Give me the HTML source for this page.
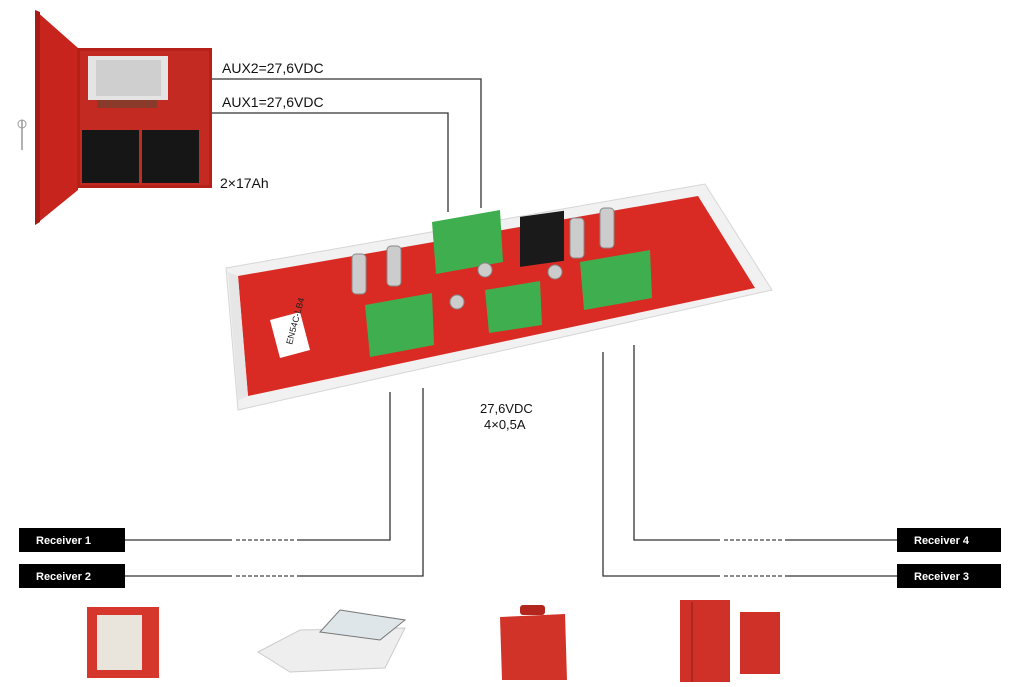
<!DOCTYPE html>
<html><head><meta charset="utf-8"><style>
html,body{margin:0;padding:0;background:#fff;}
svg{display:block;}
text{font-family:"Liberation Sans","DejaVu Sans",sans-serif;}
</style></head><body>
<svg width="1015" height="687" viewBox="0 0 1015 687" xmlns="http://www.w3.org/2000/svg">
<!-- cabinet -->
<polygon points="35,10 78,48 78,190 35,225" fill="#c8241e"/>
<polygon points="35,10 40,12 40,222 35,225" fill="#a81a15"/>
<rect x="77" y="48" width="135" height="140" fill="#b52019"/>
<rect x="80" y="51" width="129" height="134" fill="#c22a22"/>
<rect x="88" y="56" width="80" height="44" fill="#e4e4e4"/>
<rect x="96" y="60" width="65" height="36" fill="#cfcfcf"/>
<rect x="97" y="100" width="60" height="8" fill="#8a3a2a"/>
<rect x="82" y="130" width="57" height="53" fill="#161616"/>
<rect x="142" y="130" width="57" height="53" fill="#161616"/>
<line x1="22" y1="120" x2="22" y2="150" stroke="#999" stroke-width="1.5"/>
<circle cx="22" cy="124" r="4" fill="none" stroke="#999"/>
<!-- AUX lines -->
<polyline points="212,79 481,79 481,208" fill="none" stroke="#333" stroke-width="1.3"/>
<polyline points="212,113 448,113 448,212" fill="none" stroke="#333" stroke-width="1.3"/>
<text x="222" y="73" font-size="14" fill="#111">AUX2=27,6VDC</text>
<text x="222" y="107" font-size="14" fill="#111">AUX1=27,6VDC</text>
<text x="220" y="188" font-size="14" fill="#111">2×17Ah</text>
<!-- board tray -->
<polygon points="226,268 705,184 772,290 238,410" fill="#f1f1f1" stroke="#d6d6d6"/>
<polygon points="238,276 698,196 755,288 248,396" fill="#d92b24"/>
<polygon points="238,276 248,396 238,400 228,272" fill="#e6e6e6"/>
<!-- label -->
<polygon points="270,320 300,312 310,350 280,358" fill="#fff"/>
<text x="292" y="345" font-size="9" fill="#222" transform="rotate(-75 292 345)">EN54C-LB4</text>
<!-- terminals -->
<polygon points="432,222 500,210 503,262 436,274" fill="#3fae4e"/>
<polygon points="365,305 432,293 434,345 370,357" fill="#3fae4e"/>
<polygon points="485,290 540,281 542,325 489,333" fill="#3fae4e"/>
<polygon points="580,262 650,250 652,298 584,310" fill="#3fae4e"/>
<rect x="520" y="218" width="44" height="50" fill="#1a1a1a" transform="skewY(-8) translate(0,72)"/>
<g fill="#ccc" stroke="#888">
<rect x="352" y="254" width="14" height="40" rx="4"/>
<rect x="387" y="246" width="14" height="40" rx="4"/>
<rect x="570" y="218" width="14" height="40" rx="4"/>
<rect x="600" y="208" width="14" height="40" rx="4"/>
<circle cx="457" cy="302" r="7"/>
<circle cx="485" cy="270" r="7"/>
<circle cx="555" cy="272" r="7"/>
</g>
<!-- output lines -->
<polyline points="125,540 390,540 390,392" fill="none" stroke="#333" stroke-width="1.3"/>
<polyline points="125,576 423,576 423,388" fill="none" stroke="#333" stroke-width="1.3"/>
<polyline points="897,540 634,540 634,345" fill="none" stroke="#333" stroke-width="1.3"/>
<polyline points="897,576 603,576 603,352" fill="none" stroke="#333" stroke-width="1.3"/>
<g fill="#fff"><rect x="232" y="536" width="65" height="8"/><rect x="232" y="572" width="65" height="8"/><rect x="720" y="536" width="65" height="8"/><rect x="720" y="572" width="65" height="8"/></g>
<g stroke="#444" stroke-width="1.3" stroke-dasharray="4,2"><line x1="236" y1="540" x2="295" y2="540"/><line x1="236" y1="576" x2="295" y2="576"/><line x1="724" y1="540" x2="783" y2="540"/><line x1="724" y1="576" x2="783" y2="576"/></g>
<text x="480" y="413" font-size="13" fill="#111">27,6VDC</text>
<text x="484" y="429" font-size="13" fill="#111">4×0,5A</text>
<!-- receivers -->
<g font-size="11" font-weight="bold" fill="#fff">
<rect x="19" y="528" width="106" height="24" fill="#000"/><text x="36" y="544">Receiver 1</text>
<rect x="19" y="564" width="106" height="24" fill="#000"/><text x="36" y="580">Receiver 2</text>
<rect x="897" y="528" width="104" height="24" fill="#000"/><text x="914" y="544">Receiver 4</text>
<rect x="897" y="564" width="104" height="24" fill="#000"/><text x="914" y="580">Receiver 3</text>
</g>
<!-- devices -->
<rect x="87" y="607" width="72" height="71" fill="#d6372c"/>
<rect x="97" y="615" width="45" height="55" fill="#e9e4dc"/>
<polygon points="258,652 300,630 405,628 385,668 290,672" fill="#eee" stroke="#ccc"/>
<polygon points="340,610 405,620 380,640 320,632" fill="#dfe6ea" stroke="#777"/>
<polygon points="500,617 565,614 567,680 502,680" fill="#d23328"/>
<rect x="520" y="605" width="25" height="10" rx="3" fill="#b3261d"/>
<polygon points="680,596 780,612 780,675 680,682" fill="#fff"/>
<rect x="680" y="600" width="50" height="82" fill="#cf3129"/>
<line x1="692" y1="602" x2="692" y2="682" stroke="#8e1c16"/>
<rect x="740" y="612" width="40" height="62" fill="#cf3129"/>
</svg>
</body></html>
